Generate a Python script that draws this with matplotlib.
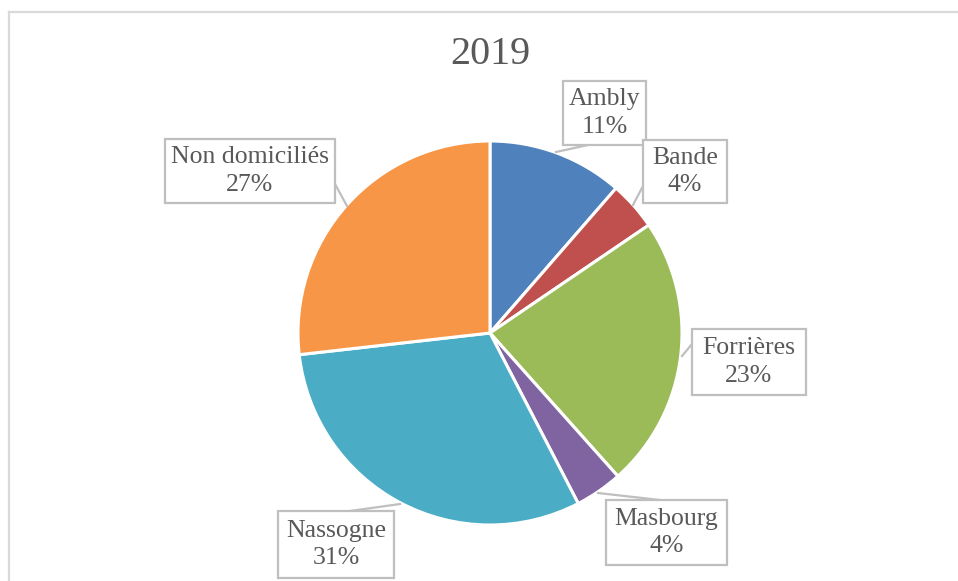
import matplotlib
matplotlib.use("Agg")
import matplotlib.pyplot as plt
from matplotlib.patches import Rectangle

# ---- data ----
title = "2019"
categories = ["Ambly", "Bande", "Forrières", "Masbourg", "Nassogne", "Non domiciliés"]
shares = [11.4, 4.1, 22.9, 4.0, 30.8, 26.8]
pct_labels = ["11%", "4%", "23%", "4%", "31%", "27%"]
colors = ["#4F81BD", "#C0504D", "#9BBB59", "#8064A2", "#4BACC6", "#F79646"]

W, H = 958, 581
fig = plt.figure(figsize=(W / 100, H / 100), dpi=100)
ax = fig.add_axes([0, 0, 1, 1])

def py(y):
    return H - y

ax.pie(shares, colors=colors, startangle=90, counterclock=False,
       center=(490, py(333)), radius=192,
       wedgeprops=dict(edgecolor="white", linewidth=2.2))
ax.set_xlim(0, W)
ax.set_ylim(0, H)
ax.set_aspect("equal")
ax.axis("off")

# chart border
ax.plot([9, W], [py(11.5), py(11.5)], color="#D9D9D9", lw=1.6, clip_on=False)
ax.plot([9, 9], [py(11.5), 0], color="#D9D9D9", lw=1.6, clip_on=False)

ax.text(490, py(55), title, ha="center", va="center", fontsize=29,
        family="Liberation Serif", color="#595959")

# label boxes: (x0, y0, x1, y1) in pixels and leader line (pie point, box point)
boxes = [
    (563, 81, 646, 145, (556, 152), (588, 145)),
    (643, 140, 727, 203, (633, 205), (643, 186)),
    (692, 329, 806, 395, (682, 356), (692, 344)),
    (606, 500, 727, 565, (598, 493), (660, 500)),
    (278, 511, 394, 578, (400, 504), (350, 511)),
    (165, 139, 335, 203, (347, 206), (335, 184)),
]

for cat, pct, (x0, y0, x1, y1, p_pie, p_box) in zip(categories, pct_labels, boxes):
    ax.plot([p_pie[0], p_box[0]], [py(p_pie[1]), py(p_box[1])],
            color="#BFBFBF", lw=1.6, zorder=3)
    ax.add_patch(Rectangle((x0, py(y1)), x1 - x0, y1 - y0, facecolor="white",
                           edgecolor="#BFBFBF", lw=1.6, zorder=4))
    ax.text((x0 + x1) / 2, py((y0 + y1) / 2), f"{cat}\n{pct}", ha="center",
            va="center", fontsize=18.5, family="Liberation Serif", color="#595959",
            linespacing=1.3, zorder=5)

fig.savefig("out.png", dpi=100)
